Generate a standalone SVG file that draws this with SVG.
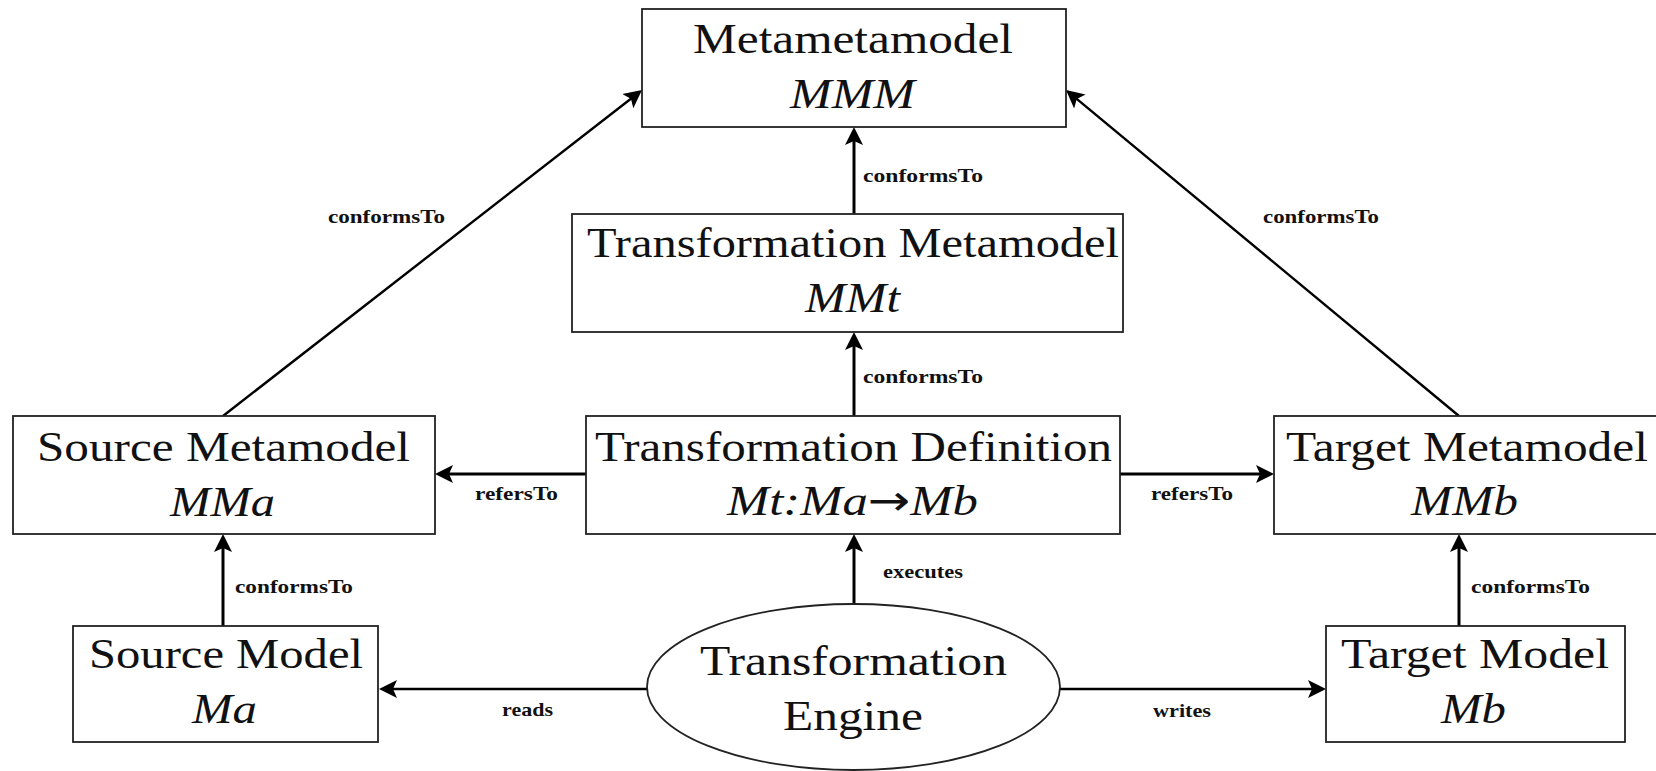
<svg xmlns="http://www.w3.org/2000/svg" width="1656" height="771" viewBox="0 0 1656 771">
<style>
.box{fill:#fff;stroke:#222;stroke-width:1.8}
.t{font-family:"Liberation Serif","Times New Roman",serif;font-size:42px;fill:#111;text-anchor:middle}
.i{font-style:italic}
.arr{font-family:"DejaVu Sans",sans-serif;font-style:normal}
.lbl{font-family:"Liberation Serif","Times New Roman",serif;font-size:19px;font-weight:bold;fill:#111}
.c{stroke:#000;stroke-width:3;fill:none}
.d{stroke:#000;stroke-width:2.4;fill:none}
</style>
<defs>
<marker id="ah" markerUnits="userSpaceOnUse" markerWidth="20" markerHeight="20" refX="8" refY="10" orient="auto">
<path d="M0,1 L18,10 L0,19 L4,10 z" fill="#000"/>
</marker>
</defs>
<rect width="1656" height="771" fill="#fff"/>
<g id="connectors">
<line class="c" x1="854" y1="214" x2="854" y2="137" marker-end="url(#ah)"/>
<line class="c" x1="854" y1="416" x2="854" y2="342" marker-end="url(#ah)"/>
<line class="c" x1="854" y1="603" x2="854" y2="544" marker-end="url(#ah)"/>
<line class="c" x1="223" y1="626" x2="223" y2="544" marker-end="url(#ah)"/>
<line class="c" x1="1459" y1="626" x2="1459" y2="544" marker-end="url(#ah)"/>
<line class="c" x1="586" y1="474" x2="445" y2="474" marker-end="url(#ah)"/>
<line class="c" x1="1120" y1="474" x2="1264" y2="474" marker-end="url(#ah)"/>
<line class="d" x1="647" y1="689" x2="389" y2="689" marker-end="url(#ah)"/>
<line class="d" x1="1060" y1="689" x2="1316" y2="689" marker-end="url(#ah)"/>
<line class="d" x1="223" y1="416" x2="634.1" y2="96.2" marker-end="url(#ah)"/>
<line class="d" x1="1459" y1="416" x2="1073.7" y2="96.4" marker-end="url(#ah)"/>
<text class="lbl" x="863" y="182" textLength="120" lengthAdjust="spacingAndGlyphs">conformsTo</text>
<text class="lbl" x="863" y="383" textLength="120" lengthAdjust="spacingAndGlyphs">conformsTo</text>
<text class="lbl" x="328" y="223" textLength="117" lengthAdjust="spacingAndGlyphs">conformsTo</text>
<text class="lbl" x="1263" y="223" textLength="116" lengthAdjust="spacingAndGlyphs">conformsTo</text>
<text class="lbl" x="235" y="593" textLength="118" lengthAdjust="spacingAndGlyphs">conformsTo</text>
<text class="lbl" x="1471" y="593" textLength="119" lengthAdjust="spacingAndGlyphs">conformsTo</text>
<text class="lbl" x="883" y="578" textLength="80" lengthAdjust="spacingAndGlyphs">executes</text>
<text class="lbl" x="475" y="500" textLength="83" lengthAdjust="spacingAndGlyphs">refersTo</text>
<text class="lbl" x="1151" y="500" textLength="82" lengthAdjust="spacingAndGlyphs">refersTo</text>
<text class="lbl" x="502" y="716" textLength="51" lengthAdjust="spacingAndGlyphs">reads</text>
<text class="lbl" x="1153" y="717" textLength="58" lengthAdjust="spacingAndGlyphs">writes</text>
</g>
<g id="metametamodel">
<rect class="box" x="642" y="9" width="424" height="118"/>
<text class="t" x="853" y="53" textLength="320" lengthAdjust="spacingAndGlyphs">Metametamodel</text>
<text class="t i" x="852.5" y="108" textLength="125" lengthAdjust="spacingAndGlyphs">MMM</text>
</g>
<g id="transformation-metamodel">
<rect class="box" x="572" y="214" width="551" height="118"/>
<text class="t" x="853" y="257" textLength="532" lengthAdjust="spacingAndGlyphs">Transformation Metamodel</text>
<text class="t i" x="852.5" y="312" textLength="95" lengthAdjust="spacingAndGlyphs">MMt</text>
</g>
<g id="source-metamodel">
<rect class="box" x="13" y="416" width="422" height="118"/>
<text class="t" x="223.5" y="461" textLength="373" lengthAdjust="spacingAndGlyphs">Source Metamodel</text>
<text class="t i" x="222.5" y="516" textLength="105" lengthAdjust="spacingAndGlyphs">MMa</text>
</g>
<g id="transformation-definition">
<rect class="box" x="586" y="416" width="534" height="118"/>
<text class="t" x="853.5" y="461" textLength="517" lengthAdjust="spacingAndGlyphs">Transformation Definition</text>
<text class="t i" x="852.5" y="515" textLength="251" lengthAdjust="spacingAndGlyphs">Mt:Ma<tspan class="arr">→</tspan>Mb</text>
</g>
<g id="target-metamodel">
<rect class="box" x="1274" y="416" width="400" height="118"/>
<text class="t" x="1467" y="461" textLength="362" lengthAdjust="spacingAndGlyphs">Target Metamodel</text>
<text class="t i" x="1464.5" y="515" textLength="107" lengthAdjust="spacingAndGlyphs">MMb</text>
</g>
<g id="source-model">
<rect class="box" x="73" y="626" width="305" height="116"/>
<text class="t" x="226" y="668" textLength="274" lengthAdjust="spacingAndGlyphs">Source Model</text>
<text class="t i" x="224.5" y="723" textLength="65" lengthAdjust="spacingAndGlyphs">Ma</text>
</g>
<g id="transformation-engine">
<ellipse class="box" cx="853.5" cy="687" rx="206.5" ry="83" stroke-width="1.5"/>
<text class="t" x="853.5" y="675" textLength="307" lengthAdjust="spacingAndGlyphs">Transformation</text>
<text class="t" x="853" y="730" textLength="140" lengthAdjust="spacingAndGlyphs">Engine</text>
</g>
<g id="target-model">
<rect class="box" x="1326" y="626" width="299" height="116"/>
<text class="t" x="1475" y="668" textLength="268" lengthAdjust="spacingAndGlyphs">Target Model</text>
<text class="t i" x="1473.5" y="723" textLength="65" lengthAdjust="spacingAndGlyphs">Mb</text>
</g>
</svg>
